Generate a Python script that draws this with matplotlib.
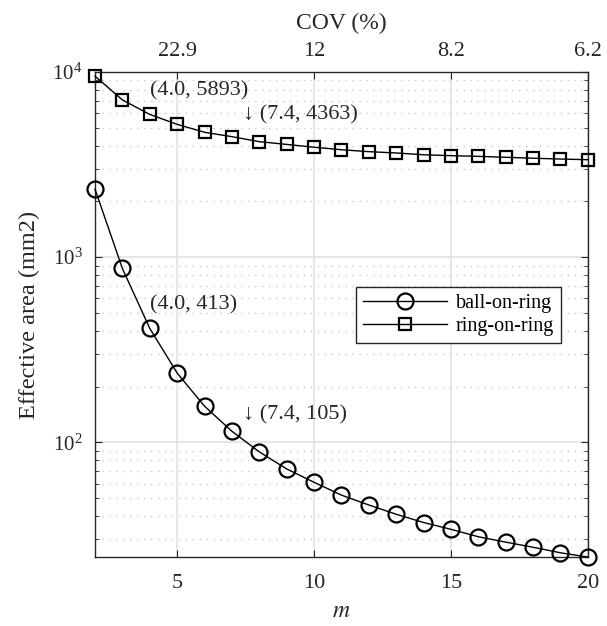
import matplotlib
matplotlib.use("Agg")
import matplotlib.pyplot as plt
from matplotlib.ticker import LogLocator, NullFormatter

plt.rcParams['font.family'] = ['Liberation Serif', 'DejaVu Serif']
plt.rcParams['mathtext.fontset'] = 'stix'

m_values = list(range(2, 21))
ball_on_ring = [2330, 869, 413, 237, 157, 115, 89, 72, 61, 52, 46, 41, 37, 34,
                31, 29, 27.2, 25.4, 24.1]
ring_on_ring = [9480, 7060, 5893, 5210, 4720, 4470, 4200, 4060, 3920, 3800,
                3710, 3650, 3570, 3530, 3500, 3460, 3420, 3385, 3357]
x_ticks = [5, 10, 15, 20]
cov_labels = ['22.9', '12', '8.2', '6.2']
annotations = [
    ((4.0, 5893), '(4.0, 5893)'),
    ((7.4, 4363), '\u2193 (7.4, 4363)'),
    ((4.0, 413), '(4.0, 413)'),
    ((7.4, 105), '\u2193 (7.4, 105)'),
]

fig = plt.figure(figsize=(6.07, 6.26), dpi=100)
ax = fig.add_axes([0.1565, 0.1102, 0.812, 0.775])

spine_c = '#262626'
ax.plot(m_values, ball_on_ring, '-o', color='black', lw=1.0, ms=11.5,
        mfc='none', mew=1.6, label='ball-on-ring', clip_on=False, zorder=5)
ax.plot(m_values, ring_on_ring, '-s', color='black', lw=1.0, ms=9,
        mfc='none', mew=1.6, label='ring-on-ring', clip_on=False, zorder=5)

ax.set_yscale('log')
ax.set_xlim(2, 20)
ax.set_ylim(min(ball_on_ring), 1e4)
ax.set_xticks(x_ticks)
ax.yaxis.set_major_locator(LogLocator(base=10, numticks=10))
ax.yaxis.set_minor_locator(LogLocator(base=10, subs=range(2, 10), numticks=20))
ax.yaxis.set_minor_formatter(NullFormatter())

ax.grid(True, which='major', color='#e2e2e2', lw=1.2, ls='-')
ax.grid(True, which='minor', axis='y', color='#c8c8c8', lw=1.0, ls=(0, (1, 4)))
ax.set_axisbelow(True)

ax.tick_params(which='both', direction='in', right=True, top=False,
               color=spine_c, labelcolor='#262626')
ax.tick_params(axis='x', labelsize=16, pad=12)
ax.tick_params(axis='y', labelsize=15, pad=9)
ax.tick_params(which='major', length=5)
ax.tick_params(which='minor', length=3)
for s in ax.spines.values():
    s.set_color(spine_c)
    s.set_linewidth(1.0)

ax.set_xlabel('$m$', fontsize=17, color='#262626', labelpad=6)
ax.set_ylabel('Effective area (mm2)', fontsize=17.5, color='#262626',
              labelpad=9)

top = ax.twiny()
top.set_xlim(ax.get_xlim())
top.set_xticks(x_ticks)
top.set_xticklabels(cov_labels)
top.tick_params(direction='in', length=5, color=spine_c, labelsize=16,
                labelcolor='#262626', pad=8)
top.set_xlabel('COV (%)', fontsize=17, color='#262626', labelpad=9)
for s in top.spines.values():
    s.set_visible(False)

for (xy, txt) in annotations:
    ax.annotate(txt, xy=xy, xytext=(0, 17), textcoords='offset points',
                ha='left', va='center', fontsize=16, color='#262626')

leg = ax.legend(loc='upper right', bbox_to_anchor=(0.945, 0.557),
                borderaxespad=0, fancybox=False, framealpha=1,
                edgecolor=spine_c, fontsize=14.5, handlelength=4.2,
                handletextpad=0.4, borderpad=0.35, labelspacing=0.2)
leg.get_frame().set_linewidth(1.0)

fig.savefig('out.png', dpi=100)
